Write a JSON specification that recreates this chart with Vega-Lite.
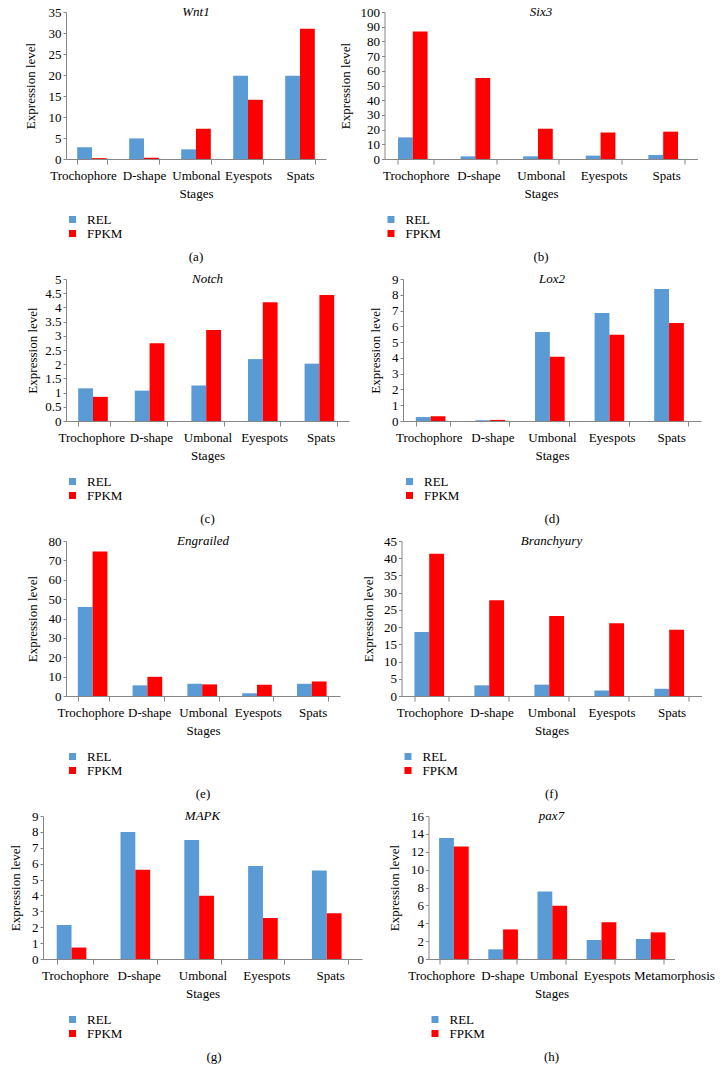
{
"$schema": "https://vega.github.io/schema/vega-lite/v6.json",
"padding": {"left": 9, "top": 6, "right": 0, "bottom": 0},
"datasets": {
"a": [
{"stage":"Trochophore","series":"REL","value":2.8},{"stage":"Trochophore","series":"FPKM","value":0.2},
{"stage":"D-shape","series":"REL","value":4.9},{"stage":"D-shape","series":"FPKM","value":0.3},
{"stage":"Umbonal","series":"REL","value":2.3},{"stage":"Umbonal","series":"FPKM","value":7.2},
{"stage":"Eyespots","series":"REL","value":19.8},{"stage":"Eyespots","series":"FPKM","value":14.1},
{"stage":"Spats","series":"REL","value":19.8},{"stage":"Spats","series":"FPKM","value":31.0}],
"b": [
{"stage":"Trochophore","series":"REL","value":14.7},{"stage":"Trochophore","series":"FPKM","value":86.8},
{"stage":"D-shape","series":"REL","value":1.8},{"stage":"D-shape","series":"FPKM","value":55.1},
{"stage":"Umbonal","series":"REL","value":1.8},{"stage":"Umbonal","series":"FPKM","value":20.6},
{"stage":"Eyespots","series":"REL","value":2.3},{"stage":"Eyespots","series":"FPKM","value":18.1},
{"stage":"Spats","series":"REL","value":2.7},{"stage":"Spats","series":"FPKM","value":18.6}],
"c": [
{"stage":"Trochophore","series":"REL","value":1.15},{"stage":"Trochophore","series":"FPKM","value":0.85},
{"stage":"D-shape","series":"REL","value":1.07},{"stage":"D-shape","series":"FPKM","value":2.74},
{"stage":"Umbonal","series":"REL","value":1.25},{"stage":"Umbonal","series":"FPKM","value":3.2},
{"stage":"Eyespots","series":"REL","value":2.18},{"stage":"Eyespots","series":"FPKM","value":4.18},
{"stage":"Spats","series":"REL","value":2.02},{"stage":"Spats","series":"FPKM","value":4.44}],
"d": [
{"stage":"Trochophore","series":"REL","value":0.25},{"stage":"Trochophore","series":"FPKM","value":0.3},
{"stage":"D-shape","series":"REL","value":0.05},{"stage":"D-shape","series":"FPKM","value":0.07},
{"stage":"Umbonal","series":"REL","value":5.64},{"stage":"Umbonal","series":"FPKM","value":4.07},
{"stage":"Eyespots","series":"REL","value":6.84},{"stage":"Eyespots","series":"FPKM","value":5.47},
{"stage":"Spats","series":"REL","value":8.37},{"stage":"Spats","series":"FPKM","value":6.21}],
"e": [
{"stage":"Trochophore","series":"REL","value":45.9},{"stage":"Trochophore","series":"FPKM","value":74.6},
{"stage":"D-shape","series":"REL","value":5.5},{"stage":"D-shape","series":"FPKM","value":9.9},
{"stage":"Umbonal","series":"REL","value":6.3},{"stage":"Umbonal","series":"FPKM","value":6.0},
{"stage":"Eyespots","series":"REL","value":1.4},{"stage":"Eyespots","series":"FPKM","value":5.8},
{"stage":"Spats","series":"REL","value":6.3},{"stage":"Spats","series":"FPKM","value":7.5}],
"f": [
{"stage":"Trochophore","series":"REL","value":18.6},{"stage":"Trochophore","series":"FPKM","value":41.3},
{"stage":"D-shape","series":"REL","value":3.1},{"stage":"D-shape","series":"FPKM","value":27.8},
{"stage":"Umbonal","series":"REL","value":3.3},{"stage":"Umbonal","series":"FPKM","value":23.2},
{"stage":"Eyespots","series":"REL","value":1.6},{"stage":"Eyespots","series":"FPKM","value":21.1},
{"stage":"Spats","series":"REL","value":2.1},{"stage":"Spats","series":"FPKM","value":19.2}],
"g": [
{"stage":"Trochophore","series":"REL","value":2.14},{"stage":"Trochophore","series":"FPKM","value":0.72},
{"stage":"D-shape","series":"REL","value":8.0},{"stage":"D-shape","series":"FPKM","value":5.61},
{"stage":"Umbonal","series":"REL","value":7.49},{"stage":"Umbonal","series":"FPKM","value":3.98},
{"stage":"Eyespots","series":"REL","value":5.86},{"stage":"Eyespots","series":"FPKM","value":2.58},
{"stage":"Spats","series":"REL","value":5.57},{"stage":"Spats","series":"FPKM","value":2.88}],
"h": [
{"stage":"Trochophore","series":"REL","value":13.55},{"stage":"Trochophore","series":"FPKM","value":12.58},
{"stage":"D-shape","series":"REL","value":1.08},{"stage":"D-shape","series":"FPKM","value":3.31},
{"stage":"Umbonal","series":"REL","value":7.56},{"stage":"Umbonal","series":"FPKM","value":5.96},
{"stage":"Eyespots","series":"REL","value":2.12},{"stage":"Eyespots","series":"FPKM","value":4.1},
{"stage":"Metamorphosis","series":"REL","value":2.23},{"stage":"Metamorphosis","series":"FPKM","value":2.98}]
},
"vconcat": [
{"spacing": 12.5, "resolve": {"scale": {"color": "independent"}, "legend": {"color": "independent"}},
 "hconcat": [
 {"width": 260, "height": 147, "title": {"text": "(a)"},
  "layer": [
   {"data": {"name": "a"}, "mark": {"type": "bar"},
    "encoding": {
     "x": {"field": "stage", "type": "nominal", "scale": {"domain": ["Trochophore","D-shape","Umbonal","Eyespots","Spats"], "paddingInner": 0.43, "paddingOuter": 0.215}, "axis": {"title": "Stages", "labelOffset": {"condition": {"test": "datum.value === 'Trochophore'", "value": -9}, "value": 0}}},
     "xOffset": {"field": "series", "type": "nominal", "scale": {"domain": ["REL","FPKM"]}},
     "y": {"field": "value", "type": "quantitative", "scale": {"domain": [0,35]}, "axis": {"title": "Expression level", "values": [0,5,10,15,20,25,30,35], "format": ".6~g", "labelOverlap": false, "titlePadding": 10.5}},
     "color": {"field": "series", "type": "nominal", "scale": {"domain": ["REL","FPKM"], "range": ["#5B9BD5","#FF0000"]}, "legend": {"title": null}}}},
   {"data": {"values": [{"gene": "Wnt1"}]}, "mark": {"type": "text", "fontStyle": "italic", "fontSize": 13, "baseline": "middle"},
    "encoding": {"x": {"datum": "Umbonal", "type": "nominal"}, "y": {"datum": 35, "type": "quantitative", "axis": {"title": "Expression level", "values": [0,5,10,15,20,25,30,35], "format": ".6~g", "labelOverlap": false, "titlePadding": 10.5}}, "text": {"field": "gene"}}}
  ]},
 {"width": 313, "height": 147, "title": {"text": "(b)"},
  "layer": [
   {"data": {"name": "b"}, "mark": {"type": "bar"},
    "encoding": {
     "x": {"field": "stage", "type": "nominal", "scale": {"domain": ["Trochophore","D-shape","Umbonal","Eyespots","Spats"], "paddingInner": 0.43, "paddingOuter": 0.215}, "axis": {"title": "Stages"}},
     "xOffset": {"field": "series", "type": "nominal", "scale": {"domain": ["REL","FPKM"]}},
     "y": {"field": "value", "type": "quantitative", "scale": {"domain": [0,100]}, "axis": {"title": "Expression level", "values": [0,10,20,30,40,50,60,70,80,90,100], "format": ".6~g", "labelOverlap": false, "titlePadding": 8}},
     "color": {"field": "series", "type": "nominal", "scale": {"domain": ["REL","FPKM"], "range": ["#5B9BD5","#FF0000"]}, "legend": {"title": null}}}},
   {"data": {"values": [{"gene": "Six3"}]}, "mark": {"type": "text", "fontStyle": "italic", "fontSize": 13, "baseline": "middle"},
    "encoding": {"x": {"datum": "Umbonal", "type": "nominal"}, "y": {"datum": 100, "type": "quantitative", "axis": {"title": "Expression level", "values": [0,10,20,30,40,50,60,70,80,90,100], "format": ".6~g", "labelOverlap": false, "titlePadding": 8}}, "text": {"field": "gene"}}}
  ]}
 ]},
{"spacing": 20, "resolve": {"scale": {"color": "independent"}, "legend": {"color": "independent"}},
 "hconcat": [
 {"width": 283, "height": 142, "title": {"text": "(c)"},
  "layer": [
   {"data": {"name": "c"}, "mark": {"type": "bar"},
    "encoding": {
     "x": {"field": "stage", "type": "nominal", "scale": {"domain": ["Trochophore","D-shape","Umbonal","Eyespots","Spats"], "paddingInner": 0.43, "paddingOuter": 0.215}, "axis": {"title": "Stages", "labelOffset": {"condition": {"test": "datum.value === 'Trochophore'", "value": -3}, "value": 0}}},
     "xOffset": {"field": "series", "type": "nominal", "scale": {"domain": ["REL","FPKM"]}},
     "y": {"field": "value", "type": "quantitative", "scale": {"domain": [0,5]}, "axis": {"title": "Expression level", "values": [0,0.5,1,1.5,2,2.5,3,3.5,4,4.5,5], "format": ".6~g", "labelOverlap": false, "titlePadding": 5}},
     "color": {"field": "series", "type": "nominal", "scale": {"domain": ["REL","FPKM"], "range": ["#5B9BD5","#FF0000"]}, "legend": {"title": null}}}},
   {"data": {"values": [{"gene": "Notch"}]}, "mark": {"type": "text", "fontStyle": "italic", "fontSize": 13, "baseline": "middle"},
    "encoding": {"x": {"datum": "Umbonal", "type": "nominal"}, "y": {"datum": 5, "type": "quantitative", "axis": {"title": "Expression level", "values": [0,0.5,1,1.5,2,2.5,3,3.5,4,4.5,5], "format": ".6~g", "labelOverlap": false, "titlePadding": 5}}, "text": {"field": "gene"}}}
  ]},
 {"width": 298, "height": 142, "title": {"text": "(d)"},
  "layer": [
   {"data": {"name": "d"}, "mark": {"type": "bar"},
    "encoding": {
     "x": {"field": "stage", "type": "nominal", "scale": {"domain": ["Trochophore","D-shape","Umbonal","Eyespots","Spats"], "paddingInner": 0.43, "paddingOuter": 0.215}, "axis": {"title": "Stages", "labelOffset": {"condition": {"test": "datum.value === 'Trochophore'", "value": -4}, "value": 0}}},
     "xOffset": {"field": "series", "type": "nominal", "scale": {"domain": ["REL","FPKM"]}},
     "y": {"field": "value", "type": "quantitative", "scale": {"domain": [0,9]}, "axis": {"title": "Expression level", "values": [0,1,2,3,4,5,6,7,8,9], "format": ".6~g", "labelOverlap": false, "titlePadding": 9.5}},
     "color": {"field": "series", "type": "nominal", "scale": {"domain": ["REL","FPKM"], "range": ["#5B9BD5","#FF0000"]}, "legend": {"title": null}}}},
   {"data": {"values": [{"gene": "Lox2"}]}, "mark": {"type": "text", "fontStyle": "italic", "fontSize": 13, "baseline": "middle"},
    "encoding": {"x": {"datum": "Umbonal", "type": "nominal"}, "y": {"datum": 9, "type": "quantitative", "axis": {"title": "Expression level", "values": [0,1,2,3,4,5,6,7,8,9], "format": ".6~g", "labelOverlap": false, "titlePadding": 9.5}}, "text": {"field": "gene"}}}
  ]}
 ]},
{"spacing": 21.5, "resolve": {"scale": {"color": "independent"}, "legend": {"color": "independent"}},
 "hconcat": [
 {"width": 274, "height": 155, "title": {"text": "(e)"},
  "layer": [
   {"data": {"name": "e"}, "mark": {"type": "bar"},
    "encoding": {
     "x": {"field": "stage", "type": "nominal", "scale": {"domain": ["Trochophore","D-shape","Umbonal","Eyespots","Spats"], "paddingInner": 0.43, "paddingOuter": 0.215}, "axis": {"title": "Stages", "labelOffset": {"condition": [{"test": "datum.value === 'Trochophore'", "value": -3}, {"test": "datum.value === 'D-shape'", "value": 1}], "value": 0}}},
     "xOffset": {"field": "series", "type": "nominal", "scale": {"domain": ["REL","FPKM"]}},
     "y": {"field": "value", "type": "quantitative", "scale": {"domain": [0,80]}, "axis": {"title": "Expression level", "values": [0,10,20,30,40,50,60,70,80], "format": ".6~g", "labelOverlap": false, "titlePadding": 8.5}},
     "color": {"field": "series", "type": "nominal", "scale": {"domain": ["REL","FPKM"], "range": ["#5B9BD5","#FF0000"]}, "legend": {"title": null}}}},
   {"data": {"values": [{"gene": "Engrailed"}]}, "mark": {"type": "text", "fontStyle": "italic", "fontSize": 13, "baseline": "middle"},
    "encoding": {"x": {"datum": "Umbonal", "type": "nominal"}, "y": {"datum": 80, "type": "quantitative", "axis": {"title": "Expression level", "values": [0,10,20,30,40,50,60,70,80], "format": ".6~g", "labelOverlap": false, "titlePadding": 8.5}}, "text": {"field": "gene"}}}
  ]},
 {"width": 300, "height": 155, "title": {"text": "(f)"},
  "layer": [
   {"data": {"name": "f"}, "mark": {"type": "bar"},
    "encoding": {
     "x": {"field": "stage", "type": "nominal", "scale": {"domain": ["Trochophore","D-shape","Umbonal","Eyespots","Spats"], "paddingInner": 0.43, "paddingOuter": 0.215}, "axis": {"title": "Stages", "labelOffset": {"condition": {"test": "datum.value === 'Trochophore'", "value": -2}, "value": 0}}},
     "xOffset": {"field": "series", "type": "nominal", "scale": {"domain": ["REL","FPKM"]}},
     "y": {"field": "value", "type": "quantitative", "scale": {"domain": [0,45]}, "axis": {"title": "Expression level", "values": [0,5,10,15,20,25,30,35,40,45], "format": ".6~g", "labelOverlap": false, "titlePadding": 8.5}},
     "color": {"field": "series", "type": "nominal", "scale": {"domain": ["REL","FPKM"], "range": ["#5B9BD5","#FF0000"]}, "legend": {"title": null}}}},
   {"data": {"values": [{"gene": "Branchyury"}]}, "mark": {"type": "text", "fontStyle": "italic", "fontSize": 13, "baseline": "middle"},
    "encoding": {"x": {"datum": "Umbonal", "type": "nominal"}, "y": {"datum": 45, "type": "quantitative", "axis": {"title": "Expression level", "values": [0,5,10,15,20,25,30,35,40,45], "format": ".6~g", "labelOverlap": false, "titlePadding": 8.5}}, "text": {"field": "gene"}}}
  ]}
 ]},
{"spacing": 2.5, "resolve": {"scale": {"color": "independent"}, "legend": {"color": "independent"}},
 "hconcat": [
 {"width": 296, "height": 143, "title": {"text": "(g)"},
  "layer": [
   {"data": {"name": "g"}, "mark": {"type": "bar"},
    "encoding": {
     "x": {"field": "stage", "type": "nominal", "scale": {"domain": ["Trochophore","D-shape","Umbonal","Eyespots","Spats"], "range": [-23, 296], "paddingInner": 0.43, "paddingOuter": 0.215}, "axis": {"title": "Stages"}},
     "xOffset": {"field": "series", "type": "nominal", "scale": {"domain": ["REL","FPKM"]}},
     "y": {"field": "value", "type": "quantitative", "scale": {"domain": [0,9]}, "axis": {"title": "Expression level", "values": [0,1,2,3,4,5,6,7,8,9], "format": ".6~g", "labelOverlap": false, "titlePadding": 9, "offset": 23}},
     "color": {"field": "series", "type": "nominal", "scale": {"domain": ["REL","FPKM"], "range": ["#5B9BD5","#FF0000"]}, "legend": {"title": null}}}},
   {"data": {"values": [{"gene": "MAPK"}]}, "mark": {"type": "text", "fontStyle": "italic", "fontSize": 13, "baseline": "middle"},
    "encoding": {"x": {"datum": "Umbonal", "type": "nominal"}, "y": {"datum": 9, "type": "quantitative", "axis": {"title": "Expression level", "values": [0,1,2,3,4,5,6,7,8,9], "format": ".6~g", "labelOverlap": false, "titlePadding": 9, "offset": 23}}, "text": {"field": "gene"}}}
  ]},
 {"width": 246, "height": 143, "title": {"text": "(h)"},
  "layer": [
   {"data": {"name": "h"}, "mark": {"type": "bar"},
    "encoding": {
     "x": {"field": "stage", "type": "nominal", "scale": {"domain": ["Trochophore","D-shape","Umbonal","Eyespots","Metamorphosis"], "paddingInner": 0.43, "paddingOuter": 0.215}, "axis": {"title": "Stages", "labelOffset": {"condition": [{"test": "datum.value === 'Trochophore'", "value": -12}, {"test": "datum.value === 'Umbonal'", "value": 2}, {"test": "datum.value === 'Eyespots'", "value": 6}, {"test": "datum.value === 'Metamorphosis'", "value": 24}], "value": 0}}},
     "xOffset": {"field": "series", "type": "nominal", "scale": {"domain": ["REL","FPKM"]}},
     "y": {"field": "value", "type": "quantitative", "scale": {"domain": [0,16]}, "axis": {"title": "Expression level", "values": [0,2,4,6,8,10,12,14,16], "format": ".6~g", "labelOverlap": false, "titlePadding": 9.5}},
     "color": {"field": "series", "type": "nominal", "scale": {"domain": ["REL","FPKM"], "range": ["#5B9BD5","#FF0000"]}, "legend": {"title": null}}}},
   {"data": {"values": [{"gene": "pax7"}]}, "mark": {"type": "text", "fontStyle": "italic", "fontSize": 13, "baseline": "middle"},
    "encoding": {"x": {"datum": "Umbonal", "type": "nominal"}, "y": {"datum": 16, "type": "quantitative", "axis": {"title": "Expression level", "values": [0,2,4,6,8,10,12,14,16], "format": ".6~g", "labelOverlap": false, "titlePadding": 9.5}}, "text": {"field": "gene"}}}
  ]}
 ]}
],
"spacing": 9,
"resolve": {"scale": {"color": "independent"}, "legend": {"color": "independent"}},
"config": {
 "font": "Liberation Serif",
 "view": {"stroke": null},
 "axis": {"labelFontSize": 13, "titleFontSize": 13, "titleFontWeight": "normal", "labelColor": "#000", "titleColor": "#000", "domainColor": "#868686", "tickColor": "#868686", "grid": false, "labelOverlap": false, "labelFont": "Liberation Serif", "titleFont": "Liberation Serif"},
 "axisX": {"tickBand": "extent", "tickSize": 5, "labelPadding": 5, "titlePadding": 5, "labelAngle": 0},
 "axisY": {"tickSize": 3, "labelPadding": 2},
 "legend": {"orient": "bottom", "direction": "vertical", "symbolType": "square", "symbolSize": 49, "labelFontSize": 13, "labelColor": "#000", "labelOffset": 8, "rowPadding": -3, "offset": 13, "symbolStrokeWidth": 0, "labelFont": "Liberation Serif"},
 "title": {"fontSize": 13, "fontWeight": "normal", "color": "#000", "orient": "bottom", "offset": 10, "font": "Liberation Serif"},
 "text": {"font": "Liberation Serif", "color": "#000"}
}
}
